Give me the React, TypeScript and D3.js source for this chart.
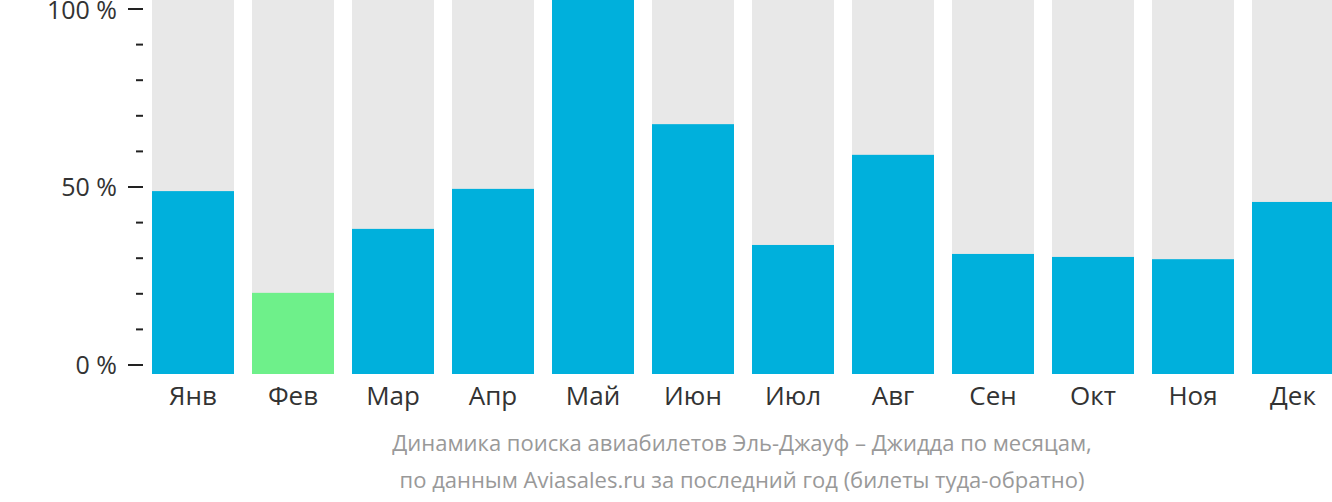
import { useRef, useEffect } from 'react';
import * as d3 from 'd3';

const months = ['Янв', 'Фев', 'Мар', 'Апр', 'Май', 'Июн', 'Июл', 'Авг', 'Сен', 'Окт', 'Ноя', 'Дек'];
const values = [48.9, 21.7, 38.8, 49.5, 100, 66.8, 34.5, 58.6, 32.1, 31.3, 30.7, 46.0];
const lowMonth = 'Фев';
const majorTicks = [0, 50, 100];
const minorTicks = [10, 20, 30, 40, 60, 70, 80, 90];
const caption = [
  'Динамика поиска авиабилетов Эль-Джауф – Джидда по месяцам,',
  'по данным Aviasales.ru за последний год (билеты туда-обратно)',
];

const W = 1332;
const H = 502;

const App = () => {
  const svgRef = useRef<SVGSVGElement>(null);

  useEffect(() => {
    const svg = d3.select(svgRef.current);
    svg.selectAll('*').remove();

    const x = d3.scaleBand().domain(months).range([152, 1334]).paddingInner(0.18).paddingOuter(0);
    const yBar = d3.scaleLinear().domain([0, 100]).range([374, 0]);
    const yAxis = d3.scaleLinear().domain([0, 100]).range([365, 9]);

    const g = svg.append('g');

    g.selectAll('rect.bg')
      .data(months)
      .enter()
      .append('rect')
      .attr('class', 'bg')
      .attr('x', d => x(d) as number)
      .attr('y', yBar(100))
      .attr('width', x.bandwidth())
      .attr('height', yBar(0) - yBar(100))
      .attr('fill', '#e8e8e8');

    g.selectAll('rect.val')
      .data(values)
      .enter()
      .append('rect')
      .attr('class', 'val')
      .attr('x', (_, i) => x(months[i]) as number)
      .attr('y', d => yBar(d))
      .attr('width', x.bandwidth())
      .attr('height', d => yBar(0) - yBar(d))
      .attr('fill', (_, i) => (months[i] === lowMonth ? '#6ef08a' : '#00b0dc'));

    // y axis
    const axis = svg.append('g').attr('transform', 'translate(143,0)');
    axis.selectAll('line.major')
      .data(majorTicks)
      .enter()
      .append('line')
      .attr('x1', -15)
      .attr('x2', 0)
      .attr('y1', d => yAxis(d))
      .attr('y2', d => yAxis(d))
      .attr('stroke', '#222')
      .attr('stroke-width', 2);
    axis.selectAll('line.minor')
      .data(minorTicks)
      .enter()
      .append('line')
      .attr('x1', -7)
      .attr('x2', 0)
      .attr('y1', d => yAxis(d))
      .attr('y2', d => yAxis(d))
      .attr('stroke', '#222')
      .attr('stroke-width', 2);
    axis.selectAll('text')
      .data(majorTicks)
      .enter()
      .append('text')
      .attr('x', -26)
      .attr('y', d => Math.max(yAxis(d), 10))
      .attr('dy', '0.35em')
      .attr('text-anchor', 'end')
      .attr('font-family', 'Open Sans')
      .attr('font-size', 25)
      .attr('fill', '#333')
      .text(d => `${d} %`);

    // month labels
    svg.append('g')
      .selectAll('text')
      .data(months)
      .enter()
      .append('text')
      .attr('x', d => (x(d) as number) + x.bandwidth() / 2)
      .attr('y', 396)
      .attr('dy', '0.35em')
      .attr('text-anchor', 'middle')
      .attr('font-family', 'Open Sans')
      .attr('font-size', 26)
      .attr('fill', '#333')
      .text(d => d);

    svg.append('g')
      .selectAll('text')
      .data(caption)
      .enter()
      .append('text')
      .attr('x', 742)
      .attr('y', (_, i) => 443 + i * 37)
      .attr('dy', '0.35em')
      .attr('text-anchor', 'middle')
      .attr('font-family', 'Open Sans')
      .attr('font-size', 22)
      .attr('fill', '#999')
      .text(d => d);
  }, []);

  return <svg ref={svgRef} width={W} height={H} style={{ position: 'absolute', left: 0, top: 0 }}></svg>;
};

export default App;
